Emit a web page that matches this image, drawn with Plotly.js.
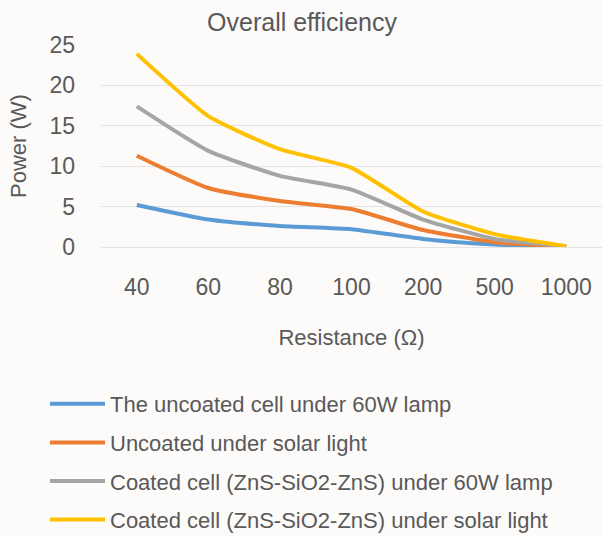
<!DOCTYPE html>
<html>
<head>
<meta charset="utf-8">
<script src="https://cdn.plot.ly/plotly-3.0.1.min.js"></script>
<style>html,body{margin:0;padding:0;background:#fcfbf9;}#chart{width:602px;height:537px;}</style>
</head>
<body>
<div id="chart"></div>
<script>
const categories = ['40', '60', '80', '100', '200', '500', '1000'];
const seriesNames = [
  'The uncoated cell under 60W lamp',
  'Uncoated under solar light',
  'Coated cell (ZnS-SiO2-ZnS) under 60W lamp',
  'Coated cell (ZnS-SiO2-ZnS) under solar light'
];
const uncoatedLamp = [5.2, 3.4, 2.6, 2.2, 1.0, 0.3, 0.05];
const uncoatedSolar = [11.3, 7.3, 5.7, 4.7, 2.1, 0.6, 0.05];
const coatedLamp = [17.4, 11.9, 8.8, 7.1, 3.4, 1.0, 0.1];
const coatedSolar = [23.9, 16.2, 12.1, 9.8, 4.4, 1.6, 0.1];
const colors = ['#5b9bd5', '#ed7d31', '#a5a5a5', '#ffc000'];

const allSeries = [uncoatedLamp, uncoatedSolar, coatedLamp, coatedSolar];
const txt = '#595959';
const fontFam = 'Liberation Sans, Arial, sans-serif';

const traces = allSeries.map((vals, i) => ({
  type: 'scatter',
  mode: 'lines',
  x: categories,
  y: vals,
  name: seriesNames[i],
  legendgroup: 'g' + i,
  line: {color: colors[i], width: 4, shape: 'spline', smoothing: 0.5}
}));

const layout = {
  width: 602,
  height: 537,
  paper_bgcolor: '#fcfbf9',
  plot_bgcolor: '#fcfbf9',
  margin: {l: 101, r: 0, t: 45, b: 290, autoexpand: false},
  font: {family: fontFam, color: txt},
  title: {text: 'Overall efficiency', font: {size: 25, color: txt, family: fontFam}, x: 302/602, xref: 'container', xanchor: 'center', y: 1 - 22/537, yref: 'container', yanchor: 'middle'},
  xaxis: {
    type: 'category',
    range: [-0.5, 6.5],
    showgrid: false,
    zeroline: false,
    showline: false,
    ticks: '',
    tickangle: 0,
    ticklabelstandoff: 24,
    tickfont: {size: 23, color: txt},
    title: {text: 'Resistance (Ω)', font: {size: 22, color: txt}, standoff: 30}
  },
  yaxis: {
    range: [0, 25],
    dtick: 5,
    showgrid: true,
    gridcolor: '#e3e3e3',
    gridwidth: 1,
    zeroline: true,
    zerolinecolor: '#e3e3e3',
    zerolinewidth: 1,
    showline: false,
    ticks: '',
    ticklabelstandoff: 25,
    tickfont: {size: 23, color: txt},
    title: {text: 'Power (W)', font: {size: 22, color: txt}, standoff: 16}
  },
  showlegend: true,
  legend: {
    x: (45 - 101) / 501, y: (247 - 383) / 202,
    xanchor: 'left', yanchor: 'top',
    orientation: 'v',
    tracegroupgap: 7,
    itemwidth: 55,
    font: {size: 22, color: txt},
    bgcolor: 'rgba(0,0,0,0)',
    traceorder: 'grouped'
  }
};

Plotly.newPlot('chart', traces, layout, {displayModeBar: false, staticPlot: true});
</script>
</body>
</html>
